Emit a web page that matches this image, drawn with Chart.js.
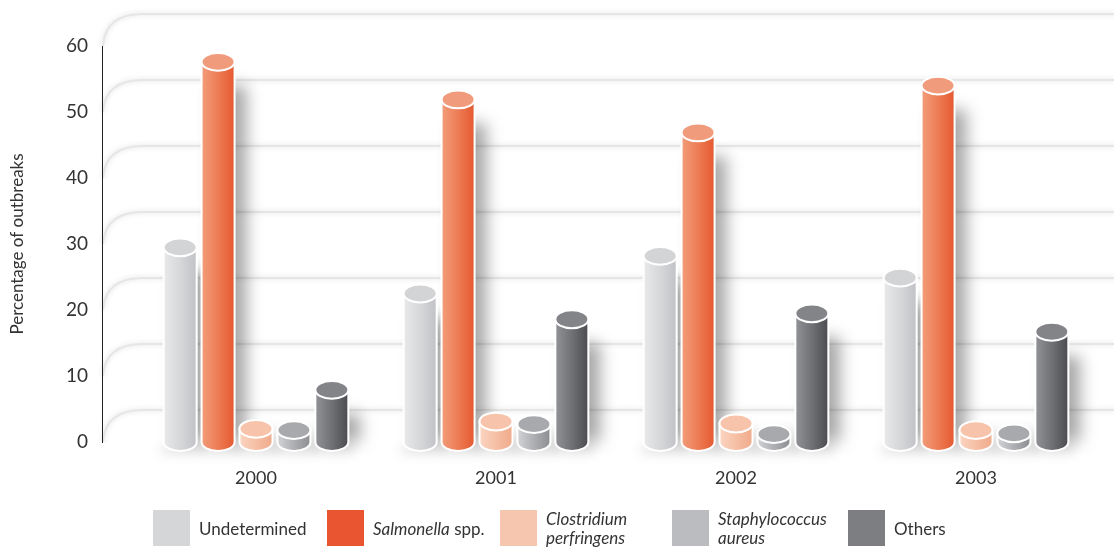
<!DOCTYPE html>
<html>
<head>
<meta charset="utf-8">
<script src="https://cdn.jsdelivr.net/npm/chart.js@4/dist/chart.umd.min.js"></script>
<style>
  html, body { margin: 0; padding: 0; background: #fff; }
  #wrap { position: relative; width: 1114px; height: 547px; overflow: hidden; font-family: "Lato", "Open Sans", sans-serif; color: #333; }
  #chart { position: absolute; left: 0; top: 0; }
  .lg { position: absolute; top: 510px; height: 36px; display: flex; align-items: center; }
  .sw { width: 37px; height: 36px; margin-right: 9px; flex: none; }
  .tx { font-size: 17px; line-height: 19px; color: #333; }
</style>
</head>
<body>
<div id="wrap">
  <canvas id="chart" width="1114" height="547"></canvas>
  <div class="lg" style="left:153px"><div class="sw" style="background:#d5d6d8"></div><div class="tx">Undetermined</div></div>
  <div class="lg" style="left:327px"><div class="sw" style="background:#e85530"></div><div class="tx"><i>Salmonella</i> spp.</div></div>
  <div class="lg" style="left:500px"><div class="sw" style="background:#f7c6ae"></div><div class="tx"><i>Clostridium<br>perfringens</i></div></div>
  <div class="lg" style="left:672px"><div class="sw" style="background:#bbbcc0"></div><div class="tx"><i>Staphylococcus<br>aureus</i></div></div>
  <div class="lg" style="left:848px"><div class="sw" style="background:#7d7e82"></div><div class="tx">Others</div></div>
</div>
<script>
// Outbreak shares by causative agent, per year (%)
const years = ['2000', '2001', '2002', '2003'];
const undetermined = [29.5, 22.5, 28.2, 24.9];
const salmonella = [57.6, 51.9, 46.9, 54.0];
const clostridium = [2.0, 3.1, 2.8, 1.8];
const staphylococcus = [1.8, 2.7, 1.2, 1.3];
const others = [7.9, 18.6, 19.5, 16.7];
const yTicks = [0, 10, 20, 30, 40, 50, 60];

// Cylinder shading per series: body gradient stops (left -> right) and cap colour
const shades = [
  { stops: ['#e8e9eb', '#d6d7d9', '#c1c2c5'], cap: '#d3d4d6' },
  { stops: ['#f29d7b', '#ed7c55', '#e4582f'], cap: '#f09b7b' },
  { stops: ['#fbd5c1', '#f6bfa4', '#f0aa8a'], cap: '#f7c4ab' },
  { stops: ['#d2d3d6', '#adaeb2', '#8d8e92'], cap: '#a8a9ad' },
  { stops: ['#929397', '#707175', '#4b4c4f'], cap: '#838488' }
];

// Back-wall grid lines that bend down into the value axis
const wallGrid = {
  id: 'wallGrid',
  beforeDatasetsDraw(chart) {
    const ctx = chart.ctx, y = chart.scales.y;
    const depth = 32, axisX = 103;
    ctx.save();
    yTicks.forEach(v => {
      const py = y.getPixelForValue(v);
      const path = () => {
        ctx.beginPath();
        ctx.moveTo(axisX, py);
        ctx.quadraticCurveTo(axisX + 2, py - depth, axisX + 40, py - depth);
        ctx.lineTo(chart.width, py - depth);
      };
      ctx.filter = 'blur(2px)';
      ctx.strokeStyle = 'rgba(0,0,0,0.06)';
      ctx.lineWidth = 5;
      path(); ctx.stroke();
      ctx.filter = 'blur(0.6px)';
      ctx.strokeStyle = '#e6e6e6';
      ctx.lineWidth = 2;
      path(); ctx.stroke();
    });
    ctx.filter = 'none';
    // value axis line
    ctx.strokeStyle = '#222';
    ctx.lineWidth = 1;
    ctx.beginPath();
    ctx.moveTo(axisX - 0.5, y.getPixelForValue(60));
    ctx.lineTo(axisX - 0.5, y.getPixelForValue(0) + 1);
    ctx.stroke();
    ctx.restore();
  }
};

// Bars rendered as shaded cylinders with soft cast shadows
const cylinders = {
  id: 'cylinders',
  afterDatasetsDraw(chart) {
    const ctx = chart.ctx;
    const metas = chart.data.datasets.map((d, i) => chart.getDatasetMeta(i));
    ctx.save();
    // floor shadow under each bar
    metas.forEach(meta => meta.data.forEach(bar => {
      const w = bar.width;
      ctx.filter = 'blur(6px)';
      ctx.fillStyle = 'rgba(0,0,0,0.10)';
      ctx.fillRect(bar.x - w / 2 - 2, bar.base + 2, w + 8, 10);
    }));
    // cast shadows on the wall
    metas.forEach(meta => meta.data.forEach(bar => {
      const w = bar.width;
      const top = Math.min(bar.y + 24, bar.base - 6);
      ctx.filter = 'blur(8px)';
      ctx.fillStyle = 'rgba(0,0,0,0.34)';
      ctx.fillRect(bar.x - w / 2 + 12, top, w, bar.base - top);
    }));
    ctx.filter = 'none';
    metas.forEach((meta, di) => meta.data.forEach(bar => {
      const s = shades[di];
      const w = bar.width, rx = w / 2, ry = w * 0.27;
      const cx = bar.x, top = bar.y, base = bar.base;
      const l = cx - rx, r = cx + rx;
      const g = ctx.createLinearGradient(l, 0, r, 0);
      g.addColorStop(0, s.stops[0]);
      g.addColorStop(0.5, s.stops[1]);
      g.addColorStop(1, s.stops[2]);
      ctx.beginPath();
      ctx.moveTo(l, top);
      ctx.lineTo(l, base);
      ctx.ellipse(cx, base, rx, ry, 0, Math.PI, 0, true);
      ctx.lineTo(r, top);
      ctx.closePath();
      ctx.fillStyle = g;
      ctx.fill();
      ctx.strokeStyle = '#ffffff';
      ctx.lineWidth = 2;
      ctx.stroke();
      ctx.beginPath();
      ctx.ellipse(cx, top, rx, ry, 0, 0, Math.PI * 2);
      ctx.fillStyle = s.cap;
      ctx.fill();
      ctx.stroke();
    }));
    ctx.restore();
  }
};

const names = ['Undetermined', 'Salmonella spp.', 'Clostridium perfringens', 'Staphylococcus aureus', 'Others'];
const series = [undetermined, salmonella, clostridium, staphylococcus, others];

new Chart(document.getElementById('chart'), {
  type: 'bar',
  data: {
    labels: years,
    datasets: series.map((vals, i) => ({
      label: names[i],
      data: vals,
      backgroundColor: 'rgba(0,0,0,0)',
      borderWidth: 0,
      categoryPercentage: 0.79,
      barPercentage: 0.87
    }))
  },
  options: {
    responsive: false,
    animation: false,
    layout: { padding: { top: 46, right: 18, bottom: 0, left: 0 } },
    plugins: { legend: { display: false }, tooltip: { enabled: false } },
    scales: {
      x: {
        grid: { display: false, drawTicks: false },
        border: { display: false },
        ticks: { color: '#333', padding: 25, font: { family: 'Lato', size: 18 } },
        afterFit(scale) { scale.height = 105; }
      },
      y: {
        min: 0, max: 60,
        afterBuildTicks(scale) { scale.ticks = yTicks.map(v => ({ value: v })); },
        grid: { display: false, drawTicks: false },
        border: { display: false },
        ticks: { color: '#333', padding: 48, font: { family: 'Lato', size: 19 } },
        title: { display: true, text: 'Percentage of outbreaks', color: '#333', padding: 7, font: { family: 'Lato', size: 17 } },
        afterFit(scale) {
          scale.width = 136;
          // keep the wide label gap from pushing the plot area down
          scale.paddingTop = 10;
          scale.paddingBottom = 10;
        }
      }
    }
  },
  plugins: [wallGrid, cylinders]
});
</script>
</body>
</html>
